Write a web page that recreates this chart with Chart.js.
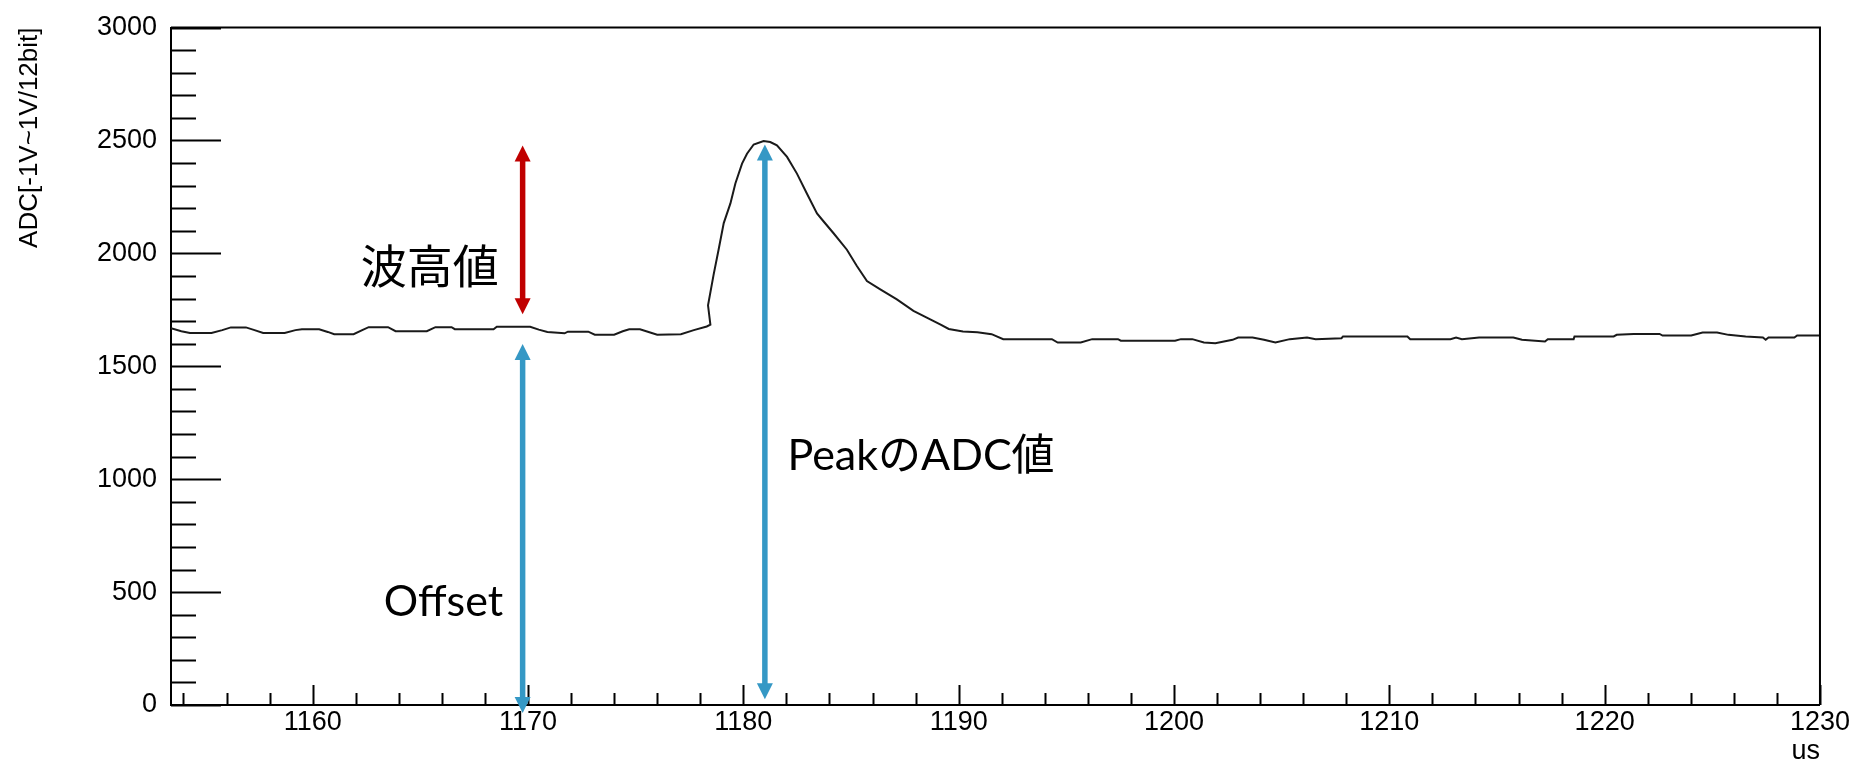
<!DOCTYPE html>
<html>
<head>
<meta charset="utf-8">
<script src="https://cdn.jsdelivr.net/npm/chart.js@4/dist/chart.umd.min.js"></script>
<style>
  html, body { margin: 0; padding: 0; background: #ffffff; }
  #wrap { width: 1854px; height: 763px; }
</style>
</head>
<body>
<div id="wrap"><canvas id="c" width="1854" height="763"></canvas></div>
<script>
// ---- data ----
const timeUs = [
  1153.42, 1153.9, 1154.3, 1155.3, 1155.8, 1156.2, 1156.9, 1157.3, 1157.7, 1158.7,
  1159.2, 1159.5, 1160.3, 1160.7, 1161.0, 1161.9, 1162.3, 1162.6, 1163.5, 1163.85,
  1165.3, 1165.7, 1166.45, 1166.6, 1168.4, 1168.55, 1170.1, 1170.5, 1170.9, 1171.7,
  1171.85, 1172.8, 1173.1, 1174.0, 1174.4, 1174.7, 1175.2, 1175.6, 1176.0, 1177.1,
  1177.7, 1178.3, 1178.47, 1178.36, 1178.62, 1178.85, 1179.09, 1179.40, 1179.63, 1179.94,
  1180.17, 1180.48, 1180.94, 1181.25, 1181.56, 1182.03, 1182.49, 1182.95, 1183.42, 1183.73,
  1184.19, 1184.81, 1185.28, 1185.74, 1186.36, 1187.13, 1187.90, 1188.68, 1189.14, 1189.54,
  1190.20, 1190.87, 1191.53, 1192.07, 1194.33, 1194.60, 1195.67, 1196.20, 1197.40, 1197.53,
  1200.05, 1200.32, 1200.85, 1201.39, 1201.92, 1202.72, 1202.98, 1203.65, 1204.18, 1204.71,
  1205.38, 1206.18, 1206.58, 1207.78, 1207.85, 1210.84, 1210.97, 1212.84, 1213.10, 1213.37,
  1214.17, 1215.76, 1216.16, 1217.23, 1217.36, 1218.56, 1218.6, 1220.42, 1220.56, 1221.35,
  1222.55, 1222.69, 1224.02, 1224.55, 1225.22, 1225.75, 1226.55, 1227.35, 1227.48, 1227.61,
  1228.81, 1228.94, 1230.0
];
const adcValues = [
  1668, 1655, 1647, 1647, 1660, 1672, 1672, 1660, 1647, 1647,
  1660, 1664, 1664, 1652, 1642, 1642, 1660, 1673, 1673, 1655,
  1655, 1673, 1673, 1664, 1664, 1675, 1675, 1662, 1652, 1646,
  1653, 1653, 1640, 1640, 1655, 1664, 1664, 1652, 1640, 1642,
  1660, 1676, 1684, 1770, 1906, 2016, 2134, 2221, 2309, 2397,
  2441, 2482, 2497, 2493, 2478, 2427, 2353, 2265, 2177, 2141,
  2089, 2016, 1943, 1877, 1840, 1796, 1745, 1708, 1685, 1665,
  1654, 1651, 1642, 1620, 1620, 1605, 1605, 1620, 1620, 1613,
  1613, 1620, 1620, 1605, 1602, 1617, 1627, 1627, 1617, 1605,
  1620, 1627, 1620, 1624, 1632, 1632, 1620, 1620, 1627, 1620,
  1627, 1627, 1617, 1610, 1620, 1620, 1632, 1632, 1639, 1643,
  1643, 1636, 1636, 1649, 1649, 1639, 1632, 1627, 1617, 1627,
  1627, 1636, 1636
];

// axis ranges and tick labels
const xRange = [1153.42, 1230];
const yRange = [0, 3000];
const xTickValues = [1160, 1170, 1180, 1190, 1200, 1210, 1220, 1230];
const yTickValues = [0, 500, 1000, 1500, 2000, 2500, 3000];
const xMinorStep = 2;
const yMinorStep = 100;
const xTitle = 'us';
const yTitle = 'ADC[-1V~1V/12bit]';

// annotations (in data units)
const arrowTimes = [1169.75, 1169.75, 1181.0];
const arrowLow = [1730, -35, 25];
const arrowHigh = [2478, 1598, 2482];
const noteTexts = ['波高値', 'Offset', 'PeakのADC値'];
const noteTimes = [1162.23, 1163.3, 1182.05];
const noteValues = [1868, 396, 1041];

// ---- styling ----
const AXIS_FONT = "'Liberation Sans', Arial, sans-serif";
const arrowColors = ['#C00000', '#3598C5', '#3598C5'];
const noteFonts = [
  "46px 'Noto Sans CJK JP'",
  "43px Lato, 'Noto Sans CJK JP'",
  "43px Lato, 'Noto Sans CJK JP'"
];

const decorPlugin = {
  id: 'decor',
  afterDraw(chart) {
    const ctx = chart.ctx;
    const xs = chart.scales.x, ys = chart.scales.y;
    const a = chart.chartArea;
    ctx.save();
    ctx.strokeStyle = '#000';
    ctx.lineWidth = 2;
    // frame top and right
    ctx.beginPath();
    ctx.moveTo(a.left, a.top);
    ctx.lineTo(a.right, a.top);
    ctx.lineTo(a.right, a.bottom);
    ctx.stroke();
    // inward ticks on y
    ctx.beginPath();
    for (let v = yRange[0]; v <= yRange[1] + 1e-6; v += yMinorStep) {
      const py = Math.round(ys.getPixelForValue(v)) + 0.5;
      const len = (v % 500 === 0) ? 50 : 25;
      ctx.moveTo(a.left, py);
      ctx.lineTo(a.left + len, py);
    }
    // inward ticks on x
    const start = Math.ceil(xRange[0] / xMinorStep) * xMinorStep;
    for (let t = start; t <= xRange[1] + 1e-6; t += xMinorStep) {
      const px = Math.round(xs.getPixelForValue(t)) + 0.5;
      const len = (t % 10 === 0) ? 20 : 12;
      ctx.moveTo(px, a.bottom);
      ctx.lineTo(px, a.bottom - len);
    }
    ctx.stroke();

    // arrows
    const shaft = 5.5, headW = 16, headL = 16;
    for (let i = 0; i < arrowTimes.length; i++) {
      const px = xs.getPixelForValue(arrowTimes[i]);
      const yTop = ys.getPixelForValue(arrowHigh[i]);
      const yBot = ys.getPixelForValue(arrowLow[i]);
      ctx.fillStyle = arrowColors[i];
      ctx.fillRect(px - shaft / 2, yTop + headL - 1, shaft, (yBot - yTop) - 2 * headL + 2);
      ctx.beginPath();
      ctx.moveTo(px, yTop);
      ctx.lineTo(px - headW / 2, yTop + headL);
      ctx.lineTo(px + headW / 2, yTop + headL);
      ctx.closePath();
      ctx.fill();
      ctx.beginPath();
      ctx.moveTo(px, yBot);
      ctx.lineTo(px - headW / 2, yBot - headL);
      ctx.lineTo(px + headW / 2, yBot - headL);
      ctx.closePath();
      ctx.fill();
    }
    // notes
    ctx.fillStyle = '#000';
    ctx.textAlign = 'left';
    ctx.textBaseline = 'alphabetic';
    for (let i = 0; i < noteTexts.length; i++) {
      ctx.font = noteFonts[i];
      ctx.fillText(noteTexts[i], xs.getPixelForValue(noteTimes[i]), ys.getPixelForValue(noteValues[i]));
    }
    ctx.restore();
  }
};

new Chart(document.getElementById('c'), {
  type: 'scatter',
  data: {
    datasets: [{
      data: timeUs.map((t, i) => ({ x: t, y: adcValues[i] })),
      showLine: true,
      borderColor: '#1a1a1a',
      borderWidth: 2,
      pointRadius: 0,
      tension: 0
    }]
  },
  options: {
    responsive: false,
    animation: false,
    devicePixelRatio: 1,
    layout: { padding: { left: 0, right: 33.5, top: 23, bottom: 0 } },
    plugins: { legend: { display: false }, tooltip: { enabled: false } },
    scales: {
      x: {
        type: 'linear',
        min: xRange[0], max: xRange[1],
        afterBuildTicks: s => { s.ticks = xTickValues.map(v => ({ value: v })); },
        afterFit: s => { s.height = 58; },
        grid: { display: false, drawTicks: false },
        border: { display: true, color: '#000', width: 2 },
        ticks: {
          padding: 4, color: '#000', maxRotation: 0, autoSkip: false,
          font: { family: AXIS_FONT, size: 27, lineHeight: 1 },
          callback: v => String(v)
        },
        title: {
          display: true, text: xTitle, align: 'end', color: '#000', padding: 0,
          font: { family: AXIS_FONT, size: 27, lineHeight: 0.85 }
        }
      },
      y: {
        type: 'linear',
        min: yRange[0], max: yRange[1],
        afterBuildTicks: s => { s.ticks = yTickValues.map(v => ({ value: v })); },
        afterFit: s => { s.width = 171; },
        grid: { display: false, drawTicks: false },
        border: { display: true, color: '#000', width: 2 },
        ticks: {
          padding: 14, color: '#000',
          font: { family: AXIS_FONT, size: 27, lineHeight: 1 },
          callback: v => String(v)
        },
        title: {
          display: true, text: yTitle, align: 'end', color: '#000',
          padding: { top: 14, bottom: 0 },
          font: { family: AXIS_FONT, size: 26, lineHeight: 1.2 }
        }
      }
    }
  },
  plugins: [decorPlugin]
});
</script>
</body>
</html>
